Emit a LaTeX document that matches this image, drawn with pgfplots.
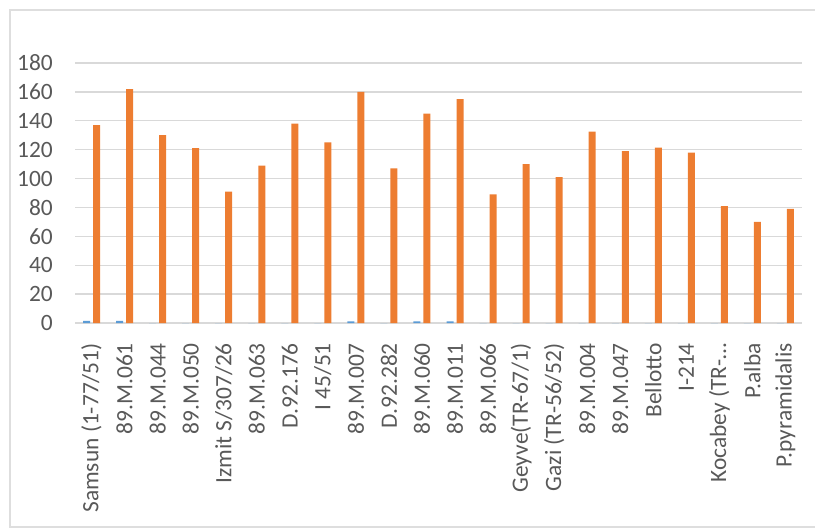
\documentclass[border=0pt]{standalone}
\usepackage{pgfplots}
\pgfplotsset{compat=1.18}
\usepackage{fontspec}
\setmainfont{Carlito}
\definecolor{xlorange}{HTML}{ED7D31}
\definecolor{xlblue}{HTML}{5B9BD5}
\definecolor{gridc}{HTML}{D9D9D9}
\definecolor{txt}{HTML}{595959}
\begin{document}
\begin{tikzpicture}
\useasboundingbox (-75bp,-206bp) rectangle (740bp,323bp);
\draw[color=black!13, line width=1.2bp] (745bp,313bp) -- (-65bp,313bp) -- (-65bp,-204bp) -- (745bp,-204bp);
\begin{axis}[
  at={(0,0)}, anchor=south west,
  scale only axis, width=727bp, height=260bp,
  ymin=0, ymax=180, ytick={0,20,...,180},
  xmin=-0.5, xmax=21.5,
  xtick={0,...,21},
  xticklabels={Samsun (1-77/51),89.M.061,89.M.044,89.M.050,Izmit S/307/26,89.M.063,D.92.176,I 45/51,89.M.007,D.92.282,89.M.060,89.M.011,89.M.066,Geyve(TR-67/1),Gazi (TR-56/52),89.M.004,89.M.047,Bellotto,I-214,Kocabey (TR-…,P.alba,P.pyramidalis},
  xticklabel style={rotate=90, anchor=east, inner sep=0pt, font=\fontsize{23.5}{27}\selectfont, text=txt},
  yticklabel style={anchor=east, inner sep=0pt, font=\fontsize{23.5}{27}\selectfont, text=txt},
  xticklabel shift=20bp, yticklabel shift=22bp,
  /pgf/number format/assume math mode=true,
  major tick length=0pt,
  ymajorgrids, grid style={draw=gridc, line width=1.3bp},
  axis line style={draw=none},
  ybar, bar width=7bp,
  clip=false,
]
\addplot[fill=xlblue, draw=none, bar shift=-5bp] coordinates {
(0,1.5) (1,1.5) (2,0) (3,0) (4,0) (5,0) (6,0) (7,0) (8,1.2) (9,0) (10,1.2)
(11,1.2) (12,0) (13,0) (14,0) (15,0) (16,0) (17,0) (18,0) (19,0) (20,0) (21,0)};
\addplot[fill=xlorange, draw=none, bar shift=5bp] coordinates {
(0,137) (1,162) (2,130) (3,121) (4,91) (5,109) (6,138) (7,125) (8,160) (9,107) (10,145)
(11,155) (12,89) (13,110) (14,101) (15,132.5) (16,119) (17,121.5) (18,118) (19,81) (20,70) (21,79)};
\end{axis}
\end{tikzpicture}
\end{document}
